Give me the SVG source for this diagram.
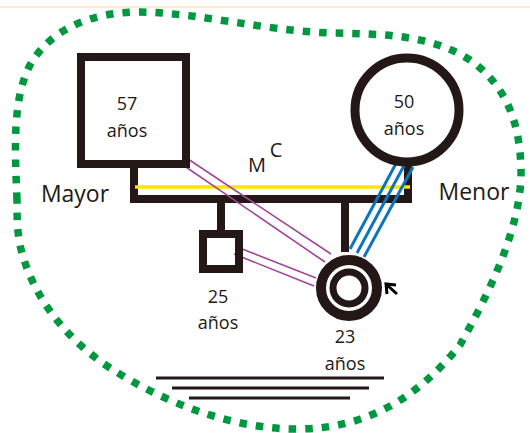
<svg xmlns="http://www.w3.org/2000/svg" width="530" height="433" viewBox="0 0 530 433">
<style>
.t{font-family:"Open Sans","Liberation Sans",sans-serif;fill:#231815;text-anchor:middle}
.age{font-size:18px}
.mc{font-size:20px}
.side{font-size:23px}
.blk{fill:none;stroke:#231815}
.pur{stroke:#a0449c;stroke-width:1.6;fill:none}
.blu{stroke:#0f74bc;stroke-width:3;fill:none}
.base{stroke:#231815;stroke-width:3}
</style>
<rect x="0" y="0" width="530" height="433" fill="#ffffff"/>
<line x1="0" y1="7" x2="530" y2="7" stroke="#fbd98c" stroke-width="1"/>
<g id="boundary">
<path d="M 17 200 C 15 150, 12 100, 30 65 C 50 30, 90 12, 140 12 C 200 13, 260 30, 330 33 C 380 34, 430 34, 470 60 C 505 85, 520 120, 521 170 C 522 230, 485 300, 460 345 C 420 395, 370 428, 300 429 C 230 430, 160 400, 110 368 C 60 335, 30 290, 20 245 C 17 230, 17 215, 17 200 Z" fill="none" stroke="#00983f" stroke-width="7.5" stroke-dasharray="7.5 9"/>
</g>
<g id="connectors">
<rect x="130" y="164" width="8" height="39" fill="#231815"/>
<rect x="130" y="195" width="282" height="8" fill="#231815"/>
<rect x="404" y="162" width="8" height="41" fill="#231815"/>
<rect x="217" y="200" width="8" height="32" fill="#231815"/>
<rect x="341" y="200" width="8" height="52" fill="#231815"/>
<line x1="135" y1="187" x2="410" y2="187" stroke="#ffe500" stroke-width="3.5"/>
<line class="pur" x1="185" y1="157" x2="331" y2="254"/>
<line class="pur" x1="180" y1="163" x2="325" y2="262"/>
<line class="pur" x1="237" y1="247" x2="316" y2="278"/>
<line class="pur" x1="234" y1="254" x2="314" y2="286"/>
<line class="blu" x1="399" y1="158" x2="350" y2="249"/>
<line class="blu" x1="406" y1="162" x2="357" y2="253"/>
<line class="blu" x1="413" y1="167" x2="364" y2="257"/>
</g>
<g id="father">
<rect class="blk" x="81" y="57" width="105" height="107" stroke-width="8"/>
<text class="t age" x="127" y="110">57</text>
<text class="t age" x="127" y="137">años</text>
</g>
<g id="mother">
<circle class="blk" cx="407" cy="110" r="52" stroke-width="9"/>
<text class="t age" x="404" y="108">50</text>
<text class="t age" x="404" y="135">años</text>
</g>
<g id="son">
<rect class="blk" x="203" y="234" width="36" height="35" stroke-width="8"/>
<text class="t age" x="218" y="303">25</text>
<text class="t age" x="218" y="329">años</text>
</g>
<g id="daughter">
<circle class="blk" cx="349" cy="288" r="28" stroke-width="10"/>
<circle class="blk" cx="349" cy="288" r="16" stroke-width="7"/>
<path d="M 387 294 L 386 284 L 396 285 M 387 285 L 397 294" fill="none" stroke="#000" stroke-width="3" stroke-linejoin="miter"/>
<text class="t age" x="345" y="343">23</text>
<text class="t age" x="345" y="370">años</text>
</g>
<g id="labels">
<text class="t side" x="75" y="202">Mayor</text>
<text class="t side" x="474" y="200">Menor</text>
<text class="t mc" x="257" y="172">M</text>
<text class="t mc" x="276" y="157">C</text>
</g>
<g id="baselines">
<line class="base" x1="156" y1="378" x2="384" y2="378"/>
<line class="base" x1="172" y1="388" x2="369" y2="388"/>
<line class="base" x1="189" y1="398" x2="350" y2="398"/>
</g>
</svg>
